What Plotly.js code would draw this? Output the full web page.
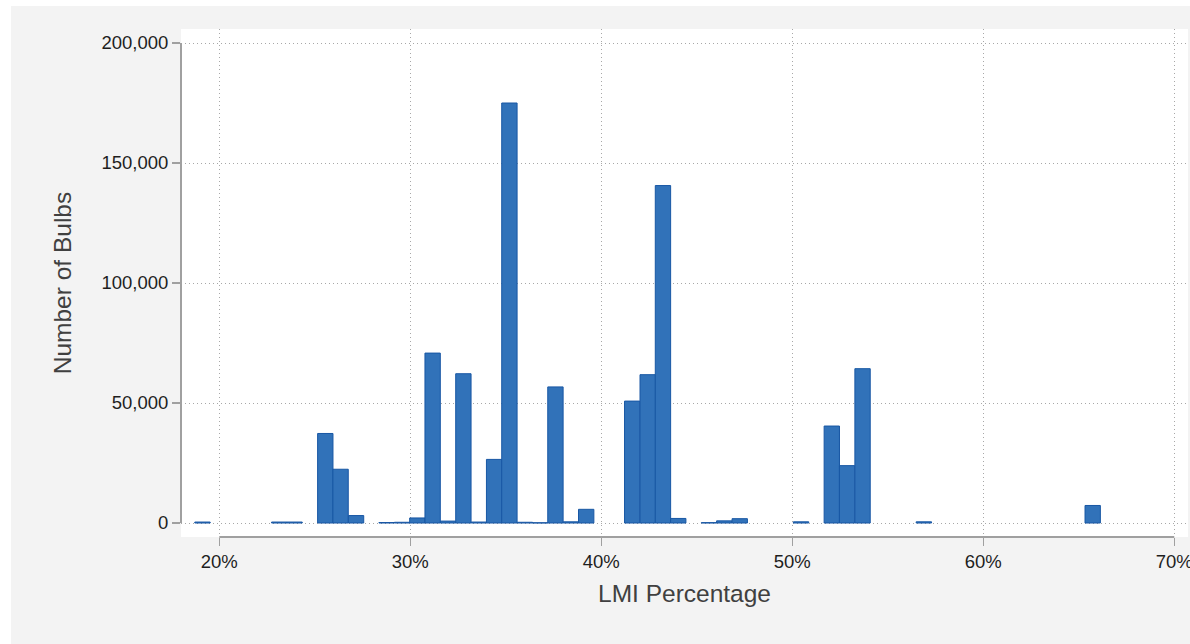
<!DOCTYPE html>
<html>
<head>
<meta charset="utf-8">
<script src="https://cdn.plot.ly/plotly-3.0.1.min.js"></script>
<style>
  html, body { margin: 0; padding: 0; background: #ffffff; width: 1190px; height: 644px; overflow: hidden; }
  #chart { position: absolute; left: 11px; top: 6px; width: 1179px; height: 638px; }
</style>
</head>
<body>
<div id="chart"></div>
<script>
// LMI percentage bin centers (%) and number of bulbs per bin (non-empty bins only)
const lmiBinCenters = [19.12, 23.14, 23.94, 25.55, 26.35, 27.16, 28.76, 29.57, 30.37, 31.17,
                       31.98, 32.78, 33.59, 34.39, 35.19, 36.00, 36.80, 37.60, 38.41, 39.21,
                       41.62, 42.43, 43.23, 44.03, 45.64, 46.44, 47.25, 50.46, 52.07, 52.87,
                       53.68, 56.89, 65.73];
const bulbCounts = [400, 400, 400, 37300, 22400, 3100, 200, 300, 2100, 70800,
                    800, 62200, 400, 26500, 175000, 300, 100, 56700, 500, 5700,
                    50800, 61800, 140600, 1900, 150, 900, 1800, 500, 40400, 23900,
                    64300, 500, 7300];
const binWidth = 0.8037;

const xTickVals = [20, 30, 40, 50, 60, 70];
const xTickText = ["20%", "30%", "40%", "50%", "60%", "70%"];
const yTickVals = [0, 50000, 100000, 150000, 200000];
const yTickText = ["0", "50,000", "100,000", "150,000", "200,000"];

const fontFam = "'Liberation Sans', Arial, sans-serif";

const trace = {
  type: 'bar',
  x: lmiBinCenters,
  y: bulbCounts,
  width: binWidth,
  marker: { color: '#3172b9', line: { color: '#1857a4', width: 1 } },
  hoverinfo: 'skip'
};

const layout = {
  width: 1179,
  height: 638,
  margin: { l: 170, r: 2, t: 23, b: 107 },
  paper_bgcolor: '#f3f3f3',
  plot_bgcolor: '#ffffff',
  showlegend: false,
  bargap: 0,
  font: { family: fontFam, color: '#1e1e1e', size: 18 },
  xaxis: {
    range: [17.995, 70.72],
    tickvals: xTickVals,
    ticktext: xTickText,
    ticks: 'outside',
    ticklen: 8,
    tickwidth: 1.5,
    tickcolor: '#a0a0a0',
    ticklabeloverflow: 'allow',
    tickfont: { size: 18.5, color: '#1e1e1e' },
    showgrid: true,
    gridcolor: '#a8a8a8',
    griddash: '1px,3px',
    gridwidth: 1,
    zeroline: false,
    showline: false,
    title: { text: 'LMI Percentage', font: { size: 24.5, color: '#404040' }, standoff: 13 }
  },
  yaxis: {
    range: [-5833, 205833],
    tickvals: yTickVals,
    ticktext: yTickText,
    ticks: 'outside',
    ticklen: 8,
    tickwidth: 1.5,
    tickcolor: '#a0a0a0',
    tickfont: { size: 18.5, color: '#1e1e1e' },
    showgrid: true,
    gridcolor: '#a8a8a8',
    griddash: '1px,3px',
    gridwidth: 1,
    zeroline: false,
    showline: false,
    title: { text: 'Number of Bulbs', font: { size: 24.5, color: '#404040' }, standoff: 22 }
  },
  shapes: [
    { type: 'line', xref: 'x', yref: 'paper', x0: 20, x1: 70, y0: 0, y1: 0,
      line: { color: '#a0a0a0', width: 2 } },
    { type: 'line', xref: 'paper', yref: 'y', x0: 0, x1: 0, y0: 0, y1: 200000,
      line: { color: '#a0a0a0', width: 2 } }
  ]
};

Plotly.newPlot('chart', [trace], layout, { staticPlot: true, displayModeBar: false });
</script>
</body>
</html>
